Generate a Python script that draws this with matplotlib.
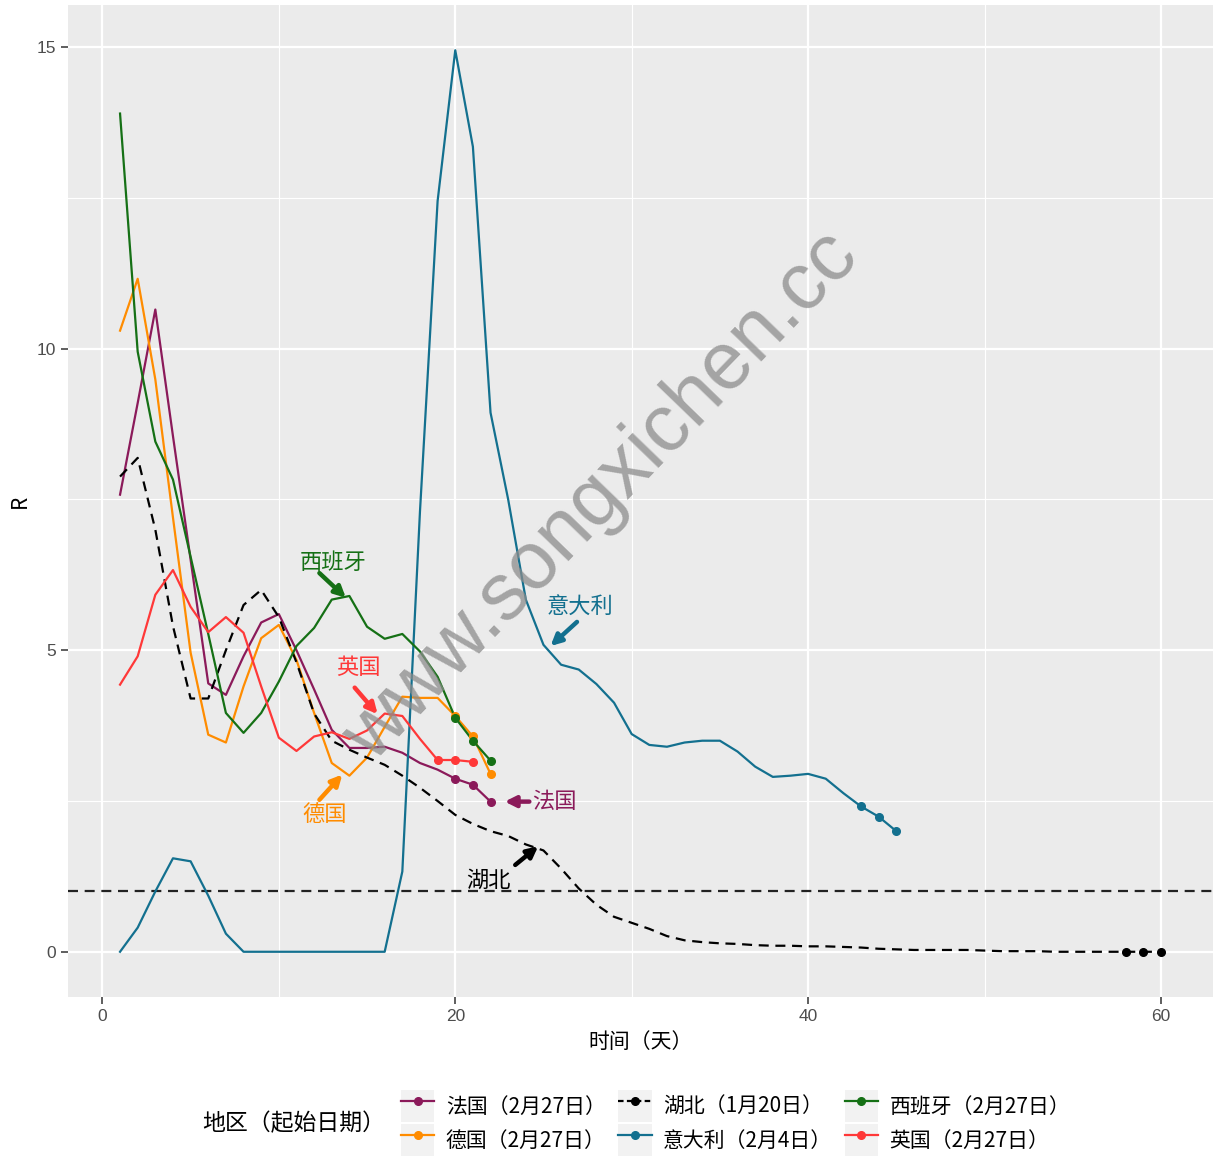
import matplotlib
matplotlib.use('Agg')
from matplotlib import pyplot as plt
from matplotlib.lines import Line2D
from matplotlib.patches import Rectangle
from matplotlib.legend_handler import HandlerLine2D
from matplotlib.ticker import MultipleLocator

plt.rcParams['font.family'] = ['Noto Sans CJK SC', 'DejaVu Sans']

# R values per day since the start date of each region
france = [7.58, 9.1, 10.65, 8.55, 6.5, 4.45, 4.26, 4.9, 5.46, 5.6, 5.0, 4.35, 3.68, 3.38,
          3.38, 3.40, 3.30, 3.13, 3.02, 2.87, 2.77, 2.49]
germany = [10.3, 11.16, 9.49, 7.2, 4.96, 3.6, 3.47, 4.4, 5.2, 5.42, 4.84, 3.96, 3.13, 2.92,
           3.22, 3.73, 4.23, 4.21, 4.21, 3.91, 3.57, 2.95]
hubei = [7.88, 8.19, 7.0, 5.4, 4.2, 4.2, 5.0, 5.75, 6.0, 5.55, 4.8, 3.95, 3.5, 3.35,
         3.22, 3.1, 2.92, 2.72, 2.5, 2.27, 2.12, 2.0, 1.92, 1.78, 1.68, 1.38, 1.05, 0.78,
         0.58, 0.48, 0.38, 0.26, 0.19, 0.16, 0.14, 0.13, 0.11, 0.1, 0.1, 0.09,
         0.09, 0.08, 0.07, 0.05, 0.04, 0.03, 0.03, 0.03, 0.03, 0.02,
         0.01, 0.01, 0.01, 0.0, 0.0, 0.0, 0.0, 0.0, 0.0, 0.0]
italy = [0.0, 0.4, 1.0, 1.55, 1.5, 0.93, 0.3, 0.0, 0.0, 0.0, 0.0, 0.0, 0.0, 0.0, 0.0, 0.0,
         1.33, 7.3, 12.45, 14.95, 13.35, 8.94, 7.5, 5.84, 5.09, 4.76, 4.68, 4.44, 4.13,
         3.61, 3.43, 3.40, 3.47, 3.50, 3.50, 3.32, 3.07, 2.90, 2.92, 2.95, 2.87, 2.63,
         2.41, 2.24, 2.0]
spain = [13.9, 9.95, 8.46, 7.83, 6.55, 5.27, 3.96, 3.63, 3.96, 4.48, 5.07, 5.37, 5.84, 5.9,
         5.39, 5.19, 5.27, 4.98, 4.56, 3.88, 3.50, 3.17]
uk = [4.43, 4.9, 5.92, 6.33, 5.72, 5.3, 5.55, 5.29, 4.4, 3.55, 3.33, 3.57, 3.64, 3.53,
      3.67, 3.95, 3.91, 3.53, 3.18, 3.18, 3.15]

labels = ['法国（2月27日）', '德国（2月27日）', '湖北（1月20日）',
          '意大利（2月4日）', '西班牙（2月27日）', '英国（2月27日）']
names = ['法国', '德国', '湖北', '意大利', '西班牙', '英国']
series = [france, germany, hubei, italy, spain, uk]
colors = ['#8B1A5A', '#FF8C00', '#000000', '#13708F', '#157015', '#FF3838']
dashed = [False, False, True, False, False, False]

# label text position, arrow start, arrow end (data units)
notes = {
    '西班牙': ((13.1, 6.45), (12.3, 6.28), (13.8, 5.87)),
    '英国': ((14.5, 4.71), (14.3, 4.38), (15.6, 3.94)),
    '德国': ((12.6, 2.28), (12.3, 2.52), (13.6, 2.94)),
    '法国': ((25.6, 2.49), (24.2, 2.49), (22.8, 2.49)),
    '意大利': ((27.1, 5.71), (26.9, 5.47), (25.4, 5.07)),
    '湖北': ((21.9, 1.18), (23.4, 1.44), (24.7, 1.75)),
}


class KeyHandler(HandlerLine2D):
    # legend key with the grey ggplot box behind it
    def create_artists(self, legend, orig_handle, xdescent, ydescent, width, height,
                       fontsize, trans):
        arts = super().create_artists(legend, orig_handle, xdescent, ydescent, width,
                                      height, fontsize, trans)
        box = Rectangle((-xdescent, -ydescent), width, height, facecolor='#F2F2F2',
                        edgecolor='none', transform=trans)
        return [box] + list(arts)


fig = plt.figure(figsize=(12.14, 11.57), dpi=100)
ax = fig.add_axes([68 / 1214, 1 - 997 / 1157, (1213 - 68) / 1214, (997 - 5) / 1157])
ax.set_facecolor('#EBEBEB')
for s in ax.spines.values():
    s.set_visible(False)

ax.set_xlim(-1.95, 62.95)
ax.set_ylim(-0.75, 15.7)
ax.xaxis.set_major_locator(MultipleLocator(20))
ax.xaxis.set_minor_locator(MultipleLocator(10))
ax.yaxis.set_major_locator(MultipleLocator(5))
ax.yaxis.set_minor_locator(MultipleLocator(2.5))
ax.grid(which='major', color='white', lw=1.6)
ax.grid(which='minor', color='white', lw=0.8)
ax.set_axisbelow(True)
ax.tick_params(which='major', direction='out', length=5, width=1.1, color='#333333',
               labelcolor='#4D4D4D', labelsize=12.5)
ax.tick_params(which='minor', length=0)
for t in ax.get_xticklabels() + ax.get_yticklabels():
    t.set_family('Liberation Sans')

ax.axhline(1, color='#222222', lw=1.6, ls=(0, (4.5, 3)))

for vals, c, d in zip(series, colors, dashed):
    x = list(range(1, len(vals) + 1))
    ls = (0, (4.5, 3)) if d else '-'
    ax.plot(x, vals, color=c, lw=1.6, ls=ls, zorder=3)
    ax.plot(x[-3:], vals[-3:], 'o', color=c, ms=5.5, zorder=4)

for name, c in zip(names, colors):
    txt, start, end = notes[name]
    ax.text(txt[0], txt[1], name, color=c, fontsize=16, ha='center', va='center', zorder=5)
    ax.annotate('', xy=end, xytext=start,
                arrowprops=dict(arrowstyle='-|>', color=c, lw=3.2, mutation_scale=16,
                                shrinkA=0, shrinkB=0), zorder=5)

ax.text(28.3, 7.55, 'www.songxichen.cc', family='Liberation Sans', fontsize=58,
        color='#8C8C8C', alpha=0.75, rotation=46, ha='center', va='center', zorder=6)

ax.set_xlabel('时间（天）', fontsize=15, labelpad=5)
ax.set_ylabel('R', fontsize=15, labelpad=4)

handles = []
for c, d in zip(colors, dashed):
    handles.append(Line2D([], [], color=c, lw=1.6, ls=(0, (2.5, 1.5)) if d else '-',
                          marker='o', ms=5.5))
fig.legend(handles, labels, loc='center left', bbox_to_anchor=(401 / 1214, 1 - 1123 / 1157),
           ncol=3, frameon=False, fontsize=15, handlelength=1.6, handleheight=2.0,
           handletextpad=0.55, columnspacing=0.6, labelspacing=0.1, borderpad=0,
           borderaxespad=0, numpoints=1, handler_map={Line2D: KeyHandler()})
fig.text(294 / 1214, 1 - 1124 / 1157, '地区（起始日期）', fontsize=16.5, ha='center',
         va='center')

fig.savefig('out.png', dpi=100)
